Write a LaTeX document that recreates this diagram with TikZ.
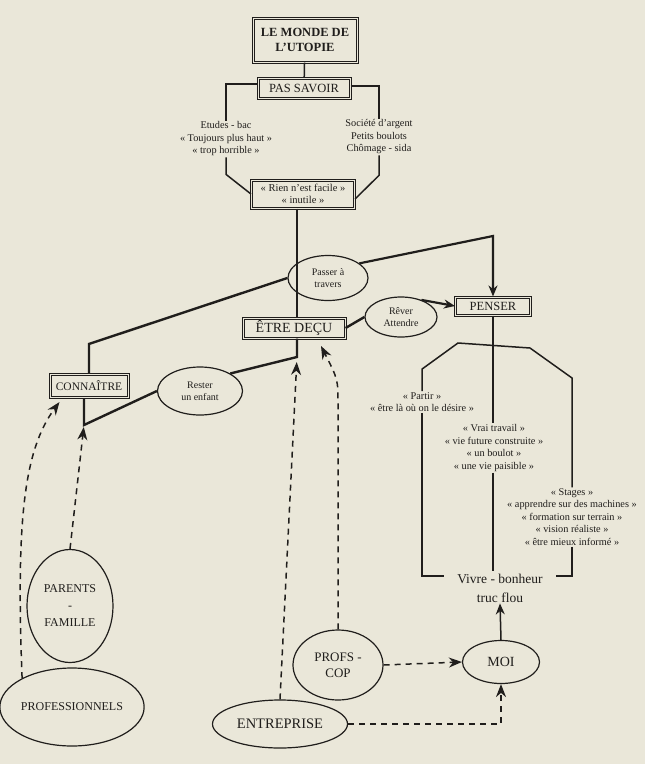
\documentclass[tikz,border=0pt]{standalone}
\usepackage{fontspec}
\setmainfont{Liberation Serif}
\usepackage{tikz}
\usetikzlibrary{arrows.meta,positioning,shapes.geometric}
\definecolor{paper}{RGB}{234,231,217}
\definecolor{ink}{RGB}{32,30,28}

\begin{document}
\begin{tikzpicture}[
    x=1pt, y=-1pt,
    color=ink,
    box/.style={draw, double=paper, double distance=0.8pt, line width=1.1pt, align=center, inner sep=1pt},
    oval/.style={draw, ellipse, line width=1.2pt, align=center, inner sep=0pt},
    txt/.style={align=center, inner sep=1pt, font=\fontsize{10.3}{12.5}\selectfont},
    line/.style={line width=2.4pt},
    branch/.style={line width=1.5pt},
    arrow/.style={-{Stealth[length=11pt,width=9pt]}, line width=2.2pt},
    dline/.style={dash pattern=on 6pt off 5pt, line width=1.5pt, -{Stealth[length=13pt,width=10pt]}}
]
\fill[paper] (0,0) rectangle (645,764);
\useasboundingbox (0,0) rectangle (645,764);

% top of the tree
\node[box, font=\fontsize{12.5}{15}\selectfont\bfseries, minimum width=104pt, minimum height=44pt] (utopie) at (305,40) {LE MONDE DE\\L'UTOPIE};
\node[box, font=\fontsize{12.5}{15}\selectfont, minimum width=92pt, minimum height=20pt] (savoir) at (304,88) {PAS SAVOIR};
\node[txt] (etudes) at (226,139) {Etudes - bac\\« Toujours plus haut »\\« trop horrible »};
\node[txt] (societe) at (379,137) {Société d'argent\\Petits boulots\\Chômage - sida};
\node[box, font=\fontsize{10.5}{12}\selectfont, minimum width=103pt, minimum height=28pt] (rien) at (303,194) {« Rien n'est facile »\\« inutile »};

% middle
\node[oval, font=\fontsize{10}{12}\selectfont, minimum width=80pt, minimum height=45pt] (passer) at (328,278) {Passer à\\travers};
\node[box, font=\fontsize{14}{16}\selectfont, minimum width=102pt, minimum height=20pt] (decu) at (294,328) {ÊTRE DEÇU};
\node[oval, font=\fontsize{10}{12}\selectfont, minimum width=72pt, minimum height=40pt] (rever) at (401,317) {Rêver\\Attendre};
\node[box, font=\fontsize{12.5}{15}\selectfont, minimum width=75pt, minimum height=18pt] (penser) at (493,306) {PENSER};
\node[oval, font=\fontsize{10}{12}\selectfont, minimum width=85pt, minimum height=48pt] (rester) at (200,391) {Rester\\un enfant};
\node[box, font=\fontsize{11.5}{14}\selectfont, minimum width=78pt, minimum height=23pt] (connaitre) at (89,386) {CONNAÎTRE};

% under PENSER
\node[txt] (partir) at (422,402) {« Partir »\\« être là où on le désire »};
\node[txt] (vrai) at (494,448) {« Vrai travail »\\« vie future construite »\\« un boulot »\\« une vie paisible »};
\node[txt] (stages) at (572,517) {« Stages »\\« apprendre sur des machines »\\« formation sur terrain »\\« vision réaliste »\\« être mieux informé »};
\node[align=center, inner sep=1pt, font=\fontsize{13.5}{19}\selectfont] (vivre) at (500,588) {Vivre - bonheur\\truc flou};

% bottom
\node[oval, font=\fontsize{14}{16}\selectfont, minimum width=77pt, minimum height=43pt] (moi) at (501,662) {MOI};
\node[oval, font=\fontsize{13}{16}\selectfont, minimum width=90pt, minimum height=70pt] (profs) at (338,665) {PROFS -\\COP};
\node[oval, font=\fontsize{14.5}{16}\selectfont, minimum width=135pt, minimum height=48pt] (entreprise) at (280,724) {ENTREPRISE};
\node[oval, font=\fontsize{12}{17}\selectfont, minimum width=86pt, minimum height=113pt] (parents) at (70,606) {PARENTS\\-\\FAMILLE};
\node[oval, font=\fontsize{12}{14}\selectfont, minimum width=130pt, minimum height=78pt] (professionnels) at (72,707) {PROFESSIONNELS};

\coordinate (pk) at (493,236);
\coordinate (dk) at (297,357);
\coordinate (ck) at (84,425);
\coordinate (pe) at (321,346);
\coordinate (b1) at (458,343);
\coordinate (b2) at (530,348);
\coordinate (b3) at (572,378);

\draw[branch] (utopie) -- (savoir);
\draw[branch] ([yshift=4pt]savoir.west) -| (etudes.north);
\draw[branch] ([yshift=2pt]savoir.east) -| (societe.north);
\draw[branch] (etudes.south) -- ++(0,17) -- (rien.west);
\draw[branch] (societe.south) -- ++(0,20) -- ([yshift=-5pt]rien.east);
\draw[branch] (rien.south -| dk) -- (decu.north -| dk);

\draw[line] (connaitre.north) -- ++(0,-30) -- (passer.west);
\draw[arrow] (passer.25) -- (pk) -- (penser.north);
\draw[line] (decu.east) -- (rever.west);
\draw[arrow] (rever.40) -- (penser.west);
\draw[line] (decu.south -| dk) -- (dk) -- (rester.30);
\draw[line] (rester.west) -- (ck) -- (connaitre.south -| ck);

\draw[branch] (penser.south) -- (penser.south |- vrai.north);
\draw[branch] (penser.south |- vrai.south) -- ([yshift=2pt]vivre.north -| penser.south);
\draw[branch] (partir.north) -- ++(0,-22) -- (b1) -- (b2) -- (b3) -- (stages.north);
\draw[branch] (partir.south) |- ([xshift=-12pt,yshift=12pt]vivre.west);
\draw[branch] (stages.south) |- ([xshift=12pt,yshift=12pt]vivre.east);
\draw[arrow, line width=1.5pt] (moi.north) -- (vivre.south);

\draw[dline, shorten >=2pt] (parents.north) -- (ck);
\draw[dline] (professionnels.150) .. controls (16,520) and (24,450) .. ([xshift=10pt,yshift=-4pt]connaitre.south west);
\draw[dline, shorten >=5pt] (entreprise.north) -- (dk);
\draw[dline] (profs.north) -- ++(0,-225) .. controls ++(0,-25) .. (pe);
\draw[dline] (profs.east) -- (moi.west);
\draw[dline] (entreprise.east) -| (moi.south);
\end{tikzpicture}
\end{document}
